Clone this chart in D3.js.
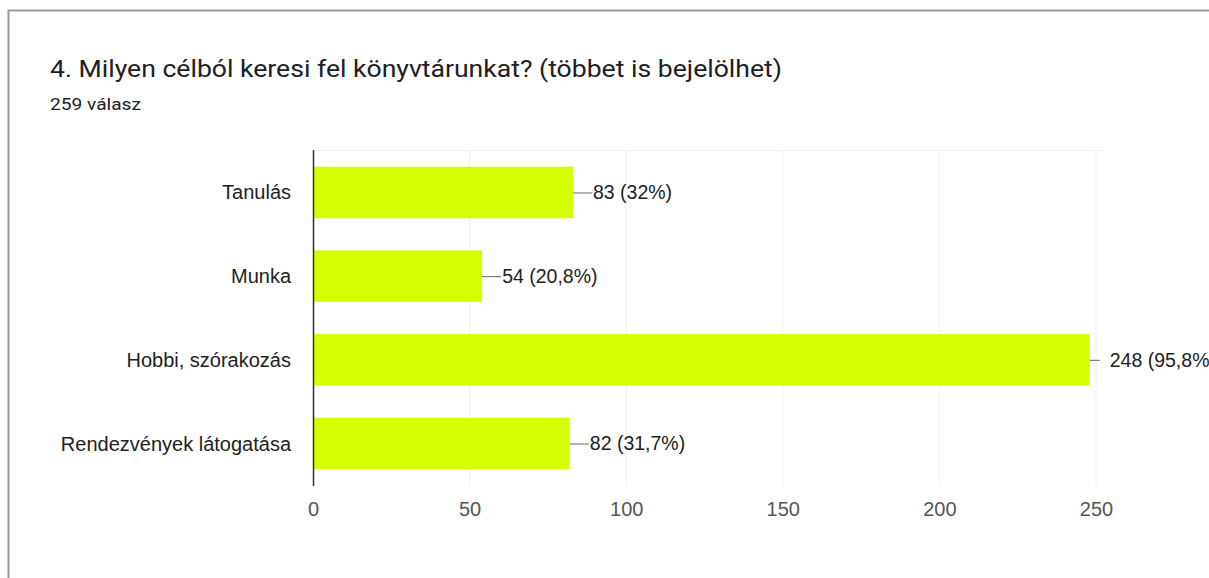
<!DOCTYPE html>
<html><head><meta charset="utf-8">
<script src="https://cdn.jsdelivr.net/npm/d3@7"></script>
<style>body{margin:0;background:#fff;overflow:hidden}svg{display:block}</style>
</head><body>
<svg id="c" width="1209" height="578"></svg>
<script>
const categories = ["Tanulás", "Munka", "Hobbi, szórakozás", "Rendezvények látogatása"];
const counts = [83, 54, 248, 82];
const percents = ["32%", "20,8%", "95,8%", "31,7%"];
const xTicks = [0, 50, 100, 150, 200, 250];
const title = "4. Milyen célból keresi fel könyvtárunkat? (többet is bejelölhet)";
const subtitle = "259 válasz";

const svg = d3.select("#c");
svg.append("rect").attr("x", 8.5).attr("y", 10.5).attr("width", 1300).attr("height", 700)
  .attr("fill", "#fff").attr("stroke", "#9a9a9a").attr("stroke-width", 2);

svg.append("text").attr("x", 50).attr("y", 77).text(title)
  .attr("font-family", "Roboto").attr("font-size", 24.5).attr("fill", "#202124")
  .attr("textLength", 732).attr("lengthAdjust", "spacingAndGlyphs");
svg.append("text").attr("x", 50).attr("y", 110).text(subtitle)
  .attr("font-family", "Roboto").attr("font-size", 17).attr("fill", "#202124")
  .attr("textLength", 91).attr("lengthAdjust", "spacingAndGlyphs");

const x = d3.scaleLinear().domain([0, 250]).range([313, 1096]);
const y = d3.scaleBand().domain(categories).range([150, 486]).paddingInner(0.385).paddingOuter(0.2);

const font = "Liberation Sans, Arial, sans-serif";
// grid
svg.append("g").selectAll("line").data(xTicks.slice(1)).join("line")
  .attr("x1", d => x(d)).attr("x2", d => x(d)).attr("y1", 150).attr("y2", 486)
  .attr("stroke", "#f0f0f0").attr("stroke-width", 1);
svg.append("line").attr("x1", 313).attr("x2", 1105).attr("y1", 150.5).attr("y2", 150.5).attr("stroke", "#f3f3f3");

// bars
svg.append("g").selectAll("rect").data(counts).join("rect")
  .attr("x", x(0)).attr("y", (d, i) => y(categories[i]))
  .attr("width", d => x(d) - x(0)).attr("height", y.bandwidth())
  .attr("fill", "#d4ff00");

// axis line
svg.append("line").attr("x1", 313.5).attr("x2", 313.5).attr("y1", 150).attr("y2", 486)
  .attr("stroke", "#333").attr("stroke-width", 1.5);

// x axis
const xa = svg.append("g").attr("transform", "translate(0,486)")
  .call(d3.axisBottom(x).tickValues(xTicks).tickSize(0).tickPadding(16));
xa.select(".domain").remove();
xa.selectAll("text").attr("font-family", font).attr("font-size", 20).attr("fill", "#555");

// y labels
svg.append("g").selectAll("text").data(categories).join("text")
  .attr("x", 291).attr("y", d => y(d) + y.bandwidth() / 2).attr("dy", "0.35em")
  .attr("text-anchor", "end").attr("font-family", font).attr("font-size", 20).attr("fill", "#222")
  .text(d => d);

// value labels
const lab = svg.append("g").selectAll("g").data(counts).join("g");
lab.append("line")
  .attr("x1", d => x(d)).attr("x2", d => x(d) + (d > 200 ? 10 : 19))
  .attr("y1", (d, i) => y(categories[i]) + y.bandwidth() / 2 + 0.5)
  .attr("y2", (d, i) => y(categories[i]) + y.bandwidth() / 2 + 0.5)
  .attr("stroke", "#666").attr("stroke-width", 1);
lab.append("text")
  .attr("x", d => x(d) + 20)
  .attr("y", (d, i) => y(categories[i]) + y.bandwidth() / 2).attr("dy", "0.35em")
  .attr("font-family", font).attr("font-size", 19.5).attr("fill", "#222")
  .text((d, i) => d + " (" + percents[i] + ")");
</script>
</body></html>
